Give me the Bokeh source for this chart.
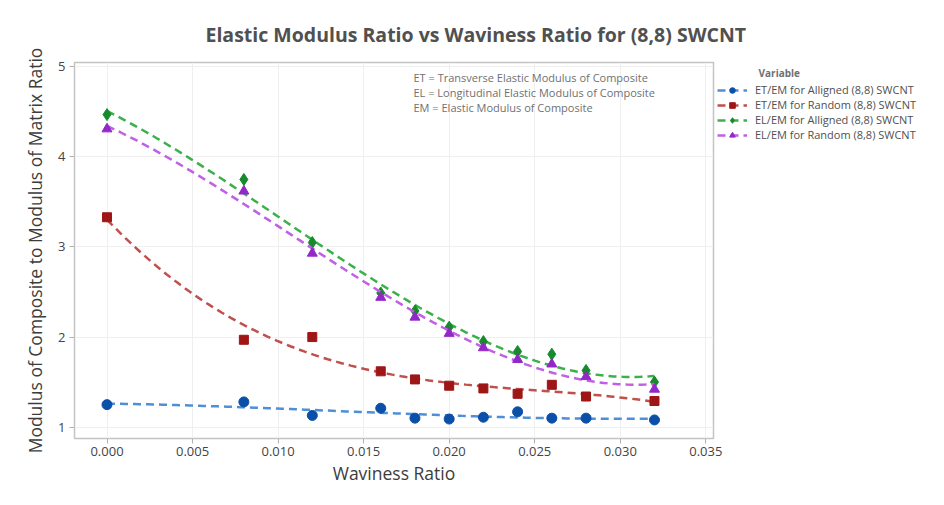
import numpy as np
from bokeh.plotting import figure
from bokeh.models import (Legend, LegendItem, FixedTicker, NumeralTickFormatter,
                          Range1d, Label)
from bokeh.embed import file_html
from bokeh.resources import INLINE

# ---- data ----
waviness = [0.000, 0.008, 0.012, 0.016, 0.018, 0.020, 0.022, 0.024, 0.026, 0.028, 0.032]
et_aligned = [1.25, 1.28, 1.13, 1.21, 1.10, 1.09, 1.11, 1.17, 1.10, 1.10, 1.08]
et_random = [3.33, 1.97, 2.00, 1.62, 1.53, 1.46, 1.43, 1.37, 1.47, 1.34, 1.29]
el_aligned = [4.47, 3.75, 3.05, 2.49, 2.29, 2.11, 1.95, 1.84, 1.81, 1.63, 1.50]
el_random = [4.31, 3.62, 2.93, 2.44, 2.22, 2.04, 1.88, 1.75, 1.70, 1.56, 1.42]

series_names = ["ET/EM for Alligned (8,8) SWCNT", "ET/EM for Random (8,8) SWCNT",
                "EL/EM for Alligned (8,8) SWCNT", "EL/EM for Random (8,8) SWCNT"]
x_ticks = [0.000, 0.005, 0.010, 0.015, 0.020, 0.025, 0.030, 0.035]
y_ticks = [1, 2, 3, 4, 5]
notes = ["ET = Transverse Elastic Modulus of Composite",
         "EL = Longitudinal Elastic Modulus of Composite",
         "EM = Elastic Modulus of Composite"]

marker_colors = ["#0b50a8", "#9e1616", "#168a2c", "#9328c8"]
line_colors = ["#4f8fd8", "#c0504d", "#3cb04a", "#c060e4"]
markers = ["circle", "square", "diamond", "triangle"]
sizes = [10, 9, 12, 10]

p = figure(frame_width=639, frame_height=376, output_backend="svg",
           toolbar_location=None,
           x_range=Range1d(-0.0019, 0.03545), y_range=Range1d(0.874, 5.048),
           min_border_left=74, min_border_right=231, min_border_top=62,
           min_border_bottom=67)

p.title.text = "Elastic Modulus Ratio vs Waviness Ratio for (8,8) SWCNT"
p.title.align = "left"
p.title.offset = 131
p.title.standoff = 29
p.title.text_font = "Open Sans"
p.title.text_font_size = "19.5px"
p.title.text_font_style = "bold"
p.title.text_color = "#505050"

p.outline_line_color = "#c4c4c4"
p.outline_line_width = 1.5
p.background_fill_color = "white"
p.border_fill_color = "white"

for ax in (p.xaxis[0], p.yaxis[0]):
    ax.axis_line_color = None
    ax.major_tick_line_color = "#b0b0b0"
    ax.major_tick_out = 5
    ax.major_tick_in = 0
    ax.minor_tick_line_color = None
    ax.major_label_text_font = "Open Sans"
    ax.major_label_text_font_size = "13px"
    ax.major_label_text_color = "#444444"
    ax.axis_label_text_font = "Open Sans"
    ax.axis_label_text_font_size = "17.5px"
    ax.axis_label_text_font_style = "normal"
    ax.axis_label_text_color = "#3c3c3c"

p.xaxis.ticker = FixedTicker(ticks=x_ticks)
p.xaxis.formatter = NumeralTickFormatter(format="0.000")
p.yaxis.ticker = FixedTicker(ticks=y_ticks)
p.xaxis.axis_label = "Waviness Ratio"
p.yaxis.axis_label = "Modulus of Composite to Modulus of Matrix Ratio"
p.xaxis.axis_label_standoff = 2
p.yaxis.axis_label_standoff = 8
p.xaxis.major_label_standoff = 3
p.yaxis.major_label_standoff = 4

p.xgrid.grid_line_color = "#efefef"
p.ygrid.grid_line_color = "#efefef"

xs = np.array(waviness)
x_fit = np.linspace(min(waviness), max(waviness), 120)
items = []
for i, vals in enumerate([et_aligned, et_random, el_aligned, el_random]):
    coef = np.polyfit(xs, np.array(vals), 3)
    y_fit = np.polyval(coef, x_fit)
    ln = p.line(x_fit, y_fit, line_color=line_colors[i], line_width=2.5,
                line_dash="8 5")
    sc = p.scatter(waviness, vals, marker=markers[i], size=sizes[i],
                   fill_color=marker_colors[i], line_color=marker_colors[i])
    items.append(LegendItem(label=series_names[i], renderers=[ln, sc]))

legend = Legend(items=items, location="top_left",
                title="\u00a0" * 16 + "Variable",
                title_text_font="Open Sans", title_text_font_size="10px",
                title_text_font_style="bold", title_text_color="#707070",
                label_text_font="Open Sans", label_text_font_size="11px",
                label_text_color="#505050", glyph_width=30, glyph_height=14,
                label_height=14, spacing=0, padding=2, margin=4,
                border_line_color=None, background_fill_alpha=0,
                label_standoff=8, title_standoff=2)
p.add_layout(legend, "right")

for k, t in enumerate(notes):
    p.add_layout(Label(x=339, y=361 - k * 15, x_units="screen", y_units="screen",
                       text=t, text_font="Open Sans", text_font_size="11px",
                       text_color="#707070", text_baseline="middle"))

open("out.html", "w").write(file_html(p, INLINE))
